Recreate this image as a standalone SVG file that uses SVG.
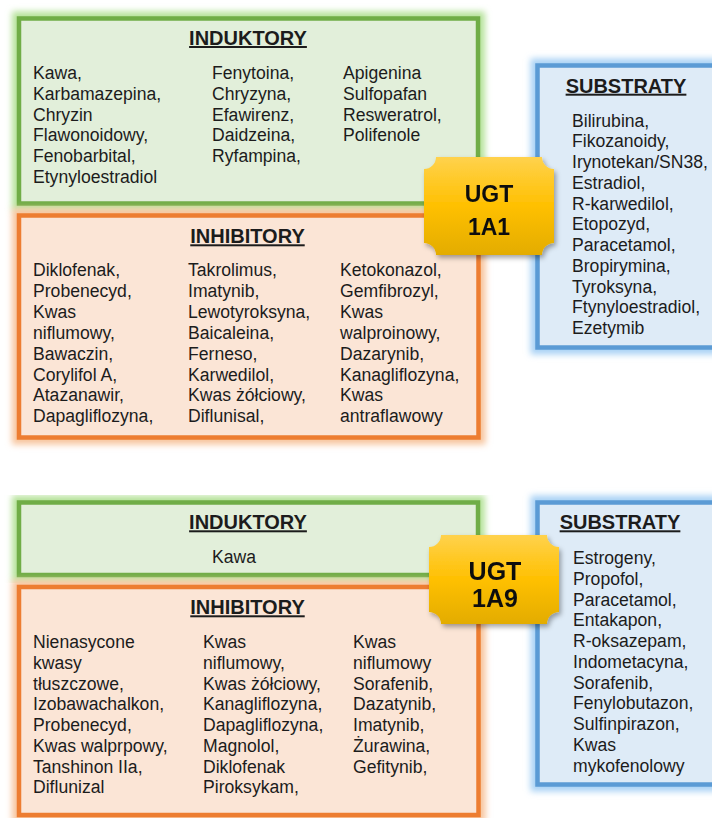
<svg xmlns="http://www.w3.org/2000/svg" width="712" height="818" viewBox="0 0 712 818">
<style>
.t{font-family:"Liberation Sans",Arial,sans-serif;font-size:17.6px;fill:#1c1c1c}
.h{font-family:"Liberation Sans",Arial,sans-serif;font-size:20px;font-weight:bold;fill:#1c1c1c;text-anchor:middle;text-decoration:underline}
.b{font-family:"Liberation Sans",Arial,sans-serif;font-weight:bold;fill:#111;text-anchor:middle}
.gbox{fill:#E2EFDA;stroke:#70AD47;stroke-width:4.5}
.obox{fill:#FBE5D6;stroke:#ED7D31;stroke-width:4.5}
.bbox{fill:#DEEBF7;stroke:#5B9BD5;stroke-width:4.5}
.gglow{fill:none;stroke:#B5E29A;stroke-width:14}
.oglow{fill:none;stroke:#F7C49C;stroke-width:14}
.bglow{fill:none;stroke:#A9D2F5;stroke-width:14}
</style>
<defs>
<filter id="blur" x="-10%" y="-10%" width="120%" height="120%"><feGaussianBlur stdDeviation="3"/></filter>
<filter id="shadow" x="-20%" y="-20%" width="140%" height="140%"><feDropShadow dx="2" dy="3" stdDeviation="2.5" flood-color="#000" flood-opacity="0.35"/></filter>
<linearGradient id="gold" x1="0" y1="0" x2="0" y2="1">
<stop offset="0" stop-color="#FFD24D"/>
<stop offset="0.5" stop-color="#FFC000"/>
<stop offset="1" stop-color="#E3AC00"/>
</linearGradient>
</defs>
<rect width="712" height="818" fill="#fff"/>

<!-- UGT 1A1 section -->
<g id="induktory-1a1">
<rect class="gglow" x="19" y="18.5" width="459" height="185" filter="url(#blur)"/>
<rect class="gbox" x="19" y="18.5" width="459" height="185"/>
<text class="h" x="248" y="45">INDUKTORY</text>
<text class="t" x="33" y="79.3">Kawa,</text>
<text class="t" x="33" y="100">Karbamazepina,</text>
<text class="t" x="33" y="120.7">Chryzin</text>
<text class="t" x="33" y="141.4">Flawonoidowy,</text>
<text class="t" x="33" y="162.1">Fenobarbital,</text>
<text class="t" x="33" y="182.8">Etynyloestradiol</text>
<text class="t" x="212" y="79.3">Fenytoina,</text>
<text class="t" x="212" y="100">Chryzyna,</text>
<text class="t" x="212" y="120.7">Efawirenz,</text>
<text class="t" x="212" y="141.4">Daidzeina,</text>
<text class="t" x="212" y="162.1">Ryfampina,</text>
<text class="t" x="343" y="79.3">Apigenina</text>
<text class="t" x="343" y="100">Sulfopafan</text>
<text class="t" x="343" y="120.7">Resweratrol,</text>
<text class="t" x="343" y="141.4">Polifenole</text>
</g>

<g id="inhibitory-1a1">
<rect class="oglow" x="19" y="215.5" width="459.5" height="222" filter="url(#blur)"/>
<rect class="obox" x="19" y="215.5" width="459.5" height="222"/>
<text class="h" x="247.5" y="243.3">INHIBITORY</text>
<text class="t" x="33" y="276">Diklofenak,</text>
<text class="t" x="33" y="296.9">Probenecyd,</text>
<text class="t" x="33" y="317.8">Kwas</text>
<text class="t" x="33" y="338.7">niflumowy,</text>
<text class="t" x="33" y="359.6">Bawaczin,</text>
<text class="t" x="33" y="380.5">Corylifol A,</text>
<text class="t" x="33" y="401.4">Atazanawir,</text>
<text class="t" x="33" y="422.3">Dapagliflozyna,</text>
<text class="t" x="188" y="276">Takrolimus,</text>
<text class="t" x="188" y="296.9">Imatynib,</text>
<text class="t" x="188" y="317.8">Lewotyroksyna,</text>
<text class="t" x="188" y="338.7">Baicaleina,</text>
<text class="t" x="188" y="359.6">Ferneso,</text>
<text class="t" x="188" y="380.5">Karwedilol,</text>
<text class="t" x="188" y="401.4">Kwas żółciowy,</text>
<text class="t" x="188" y="422.3">Diflunisal,</text>
<text class="t" x="340" y="276">Ketokonazol,</text>
<text class="t" x="340" y="296.9">Gemfibrozyl,</text>
<text class="t" x="340" y="317.8">Kwas</text>
<text class="t" x="340" y="338.7">walproinowy,</text>
<text class="t" x="340" y="359.6">Dazarynib,</text>
<text class="t" x="340" y="380.5">Kanagliflozyna,</text>
<text class="t" x="340" y="401.4">Kwas</text>
<text class="t" x="340" y="422.3">antraflawowy</text>
</g>

<g id="substraty-1a1">
<rect class="bglow" x="537.5" y="65.5" width="200" height="282" filter="url(#blur)"/>
<rect class="bbox" x="537.5" y="65.5" width="200" height="282"/>
<text class="h" x="626" y="92.7">SUBSTRATY</text>
<text class="t" x="572" y="126.7">Bilirubina,</text>
<text class="t" x="572" y="147.4">Fikozanoidy,</text>
<text class="t" x="572" y="168.2">Irynotekan/SN38,</text>
<text class="t" x="572" y="188.9">Estradiol,</text>
<text class="t" x="572" y="209.6">R-karwedilol,</text>
<text class="t" x="572" y="230.4">Etopozyd,</text>
<text class="t" x="572" y="251.1">Paracetamol,</text>
<text class="t" x="572" y="271.8">Bropirymina,</text>
<text class="t" x="572" y="292.5">Tyroksyna,</text>
<text class="t" x="572" y="313.3">Ftynyloestradiol,</text>
<text class="t" x="572" y="334">Ezetymib</text>
</g>

<g id="ugt-1a1" filter="url(#shadow)">
<path d="M436,157 H542 A12,12 0 0 0 554,169 V243 A12,12 0 0 0 542,255 H436 A12,12 0 0 0 424,243 V169 A12,12 0 0 0 436,157 Z" fill="url(#gold)"/>
<text class="b" x="489" y="201.7" font-size="23">UGT</text>
<text class="b" x="489" y="235" font-size="23">1A1</text>
</g>

<!-- UGT 1A9 section -->
<g id="induktory-1a9">
<rect class="gglow" x="19" y="502.5" width="459" height="72.5" filter="url(#blur)"/>
<rect class="gbox" x="19" y="502.5" width="459" height="72.5"/>
<text class="h" x="248" y="529.3">INDUKTORY</text>
<text class="t" x="234" y="562.7" text-anchor="middle">Kawa</text>
</g>

<g id="inhibitory-1a9">
<rect class="oglow" x="19" y="587" width="459.5" height="228" filter="url(#blur)"/>
<rect class="obox" x="19" y="587" width="459.5" height="228"/>
<text class="h" x="247.5" y="614.3">INHIBITORY</text>
<text class="t" x="33" y="648.3">Nienasycone</text>
<text class="t" x="33" y="669">kwasy</text>
<text class="t" x="33" y="689.7">tłuszczowe,</text>
<text class="t" x="33" y="710.4">Izobawachalkon,</text>
<text class="t" x="33" y="731.2">Probenecyd,</text>
<text class="t" x="33" y="751.9">Kwas walprpowy,</text>
<text class="t" x="33" y="772.6">Tanshinon IIa,</text>
<text class="t" x="33" y="793.3">Diflunizal</text>
<text class="t" x="203" y="648.3">Kwas</text>
<text class="t" x="203" y="669">niflumowy,</text>
<text class="t" x="203" y="689.7">Kwas żółciowy,</text>
<text class="t" x="203" y="710.4">Kanagliflozyna,</text>
<text class="t" x="203" y="731.2">Dapagliflozyna,</text>
<text class="t" x="203" y="751.9">Magnolol,</text>
<text class="t" x="203" y="772.6">Diklofenak</text>
<text class="t" x="203" y="793.3">Piroksykam,</text>
<text class="t" x="353" y="648.3">Kwas</text>
<text class="t" x="353" y="669">niflumowy</text>
<text class="t" x="353" y="689.7">Sorafenib,</text>
<text class="t" x="353" y="710.4">Dazatynib,</text>
<text class="t" x="353" y="731.2">Imatynib,</text>
<text class="t" x="353" y="751.9">Żurawina,</text>
<text class="t" x="353" y="772.6">Gefitynib,</text>
</g>

<g id="substraty-1a9">
<rect class="bglow" x="537.5" y="502.5" width="200" height="282" filter="url(#blur)"/>
<rect class="bbox" x="537.5" y="502.5" width="200" height="282"/>
<text class="h" x="620" y="529.3">SUBSTRATY</text>
<text class="t" x="573" y="564">Estrogeny,</text>
<text class="t" x="573" y="584.8">Propofol,</text>
<text class="t" x="573" y="605.5">Paracetamol,</text>
<text class="t" x="573" y="626.3">Entakapon,</text>
<text class="t" x="573" y="647.1">R-oksazepam,</text>
<text class="t" x="573" y="667.9">Indometacyna,</text>
<text class="t" x="573" y="688.6">Sorafenib,</text>
<text class="t" x="573" y="709.4">Fenylobutazon,</text>
<text class="t" x="573" y="730.2">Sulfinpirazon,</text>
<text class="t" x="573" y="750.9">Kwas</text>
<text class="t" x="573" y="771.7">mykofenolowy</text>
</g>

<g id="ugt-1a9" filter="url(#shadow)">
<path d="M441,535 H547 A12,12 0 0 0 559,547 V612 A12,12 0 0 0 547,624 H441 A12,12 0 0 0 429,612 V547 A12,12 0 0 0 441,535 Z" fill="url(#gold)"/>
<text class="b" x="495" y="580" font-size="25">UGT</text>
<text class="b" x="495" y="606.7" font-size="25">1A9</text>
</g>
</svg>
